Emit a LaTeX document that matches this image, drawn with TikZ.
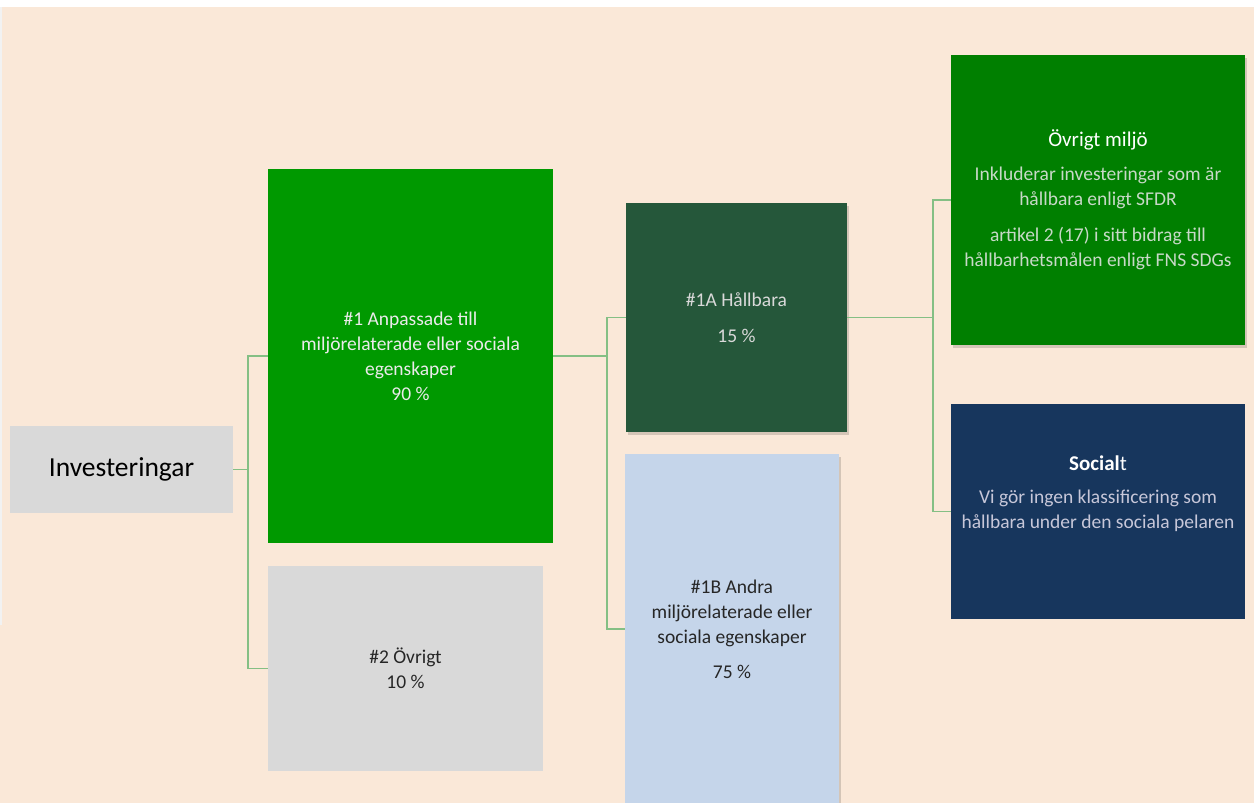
\documentclass[tikz,border=0pt]{standalone}
\usepackage{fontspec}
\setmainfont{Carlito}
\usetikzlibrary{positioning,shadows}
\definecolor{peach}{HTML}{FAE8D8}
\definecolor{boxgray}{HTML}{D9D9D9}
\definecolor{brightgreen}{HTML}{009900}
\definecolor{darkgreen}{HTML}{25573A}
\definecolor{paleblue}{HTML}{C5D5EA}
\definecolor{envgreen}{HTML}{007F00}
\definecolor{navy}{HTML}{17365D}
\definecolor{linkgreen}{HTML}{84BF84}
\begin{document}
\begin{tikzpicture}[
  x=1pt, y=-1pt,
  box/.style={rectangle, anchor=north west, inner sep=0pt, outer sep=0pt, align=center,
    font=\fontsize{19.5}{25}\selectfont},
  drop/.style={drop shadow={shadow xshift=1.5pt, shadow yshift=-2.5pt, fill=black, opacity=0.15}},
  link/.style={draw=linkgreen, line width=1.8pt}
]
\useasboundingbox (0,0) rectangle (1254,803);
\fill[peach] (0,0) rectangle (1254,803);
\fill[white] (0,0) rectangle (1254,7);
\fill[white!95!black] (0,7) rectangle (2,625);

\node[box, fill=boxgray, minimum width=223pt, minimum height=87pt, font=\fontsize{27.5}{30}\selectfont]
  (inv) at (10,426) {Investeringar};
\node[box, fill=brightgreen, text=white!92!black, minimum width=285pt, minimum height=374pt]
  (p1) at (268,169) {\#1 Anpassade till\\miljörelaterade eller sociala\\egenskaper\\90 \%};
\node[box, fill=boxgray, text=black!85, minimum width=275pt, minimum height=205pt]
  (p2) at (268,566) {\#2 Övrigt\\10 \%};
\node[box, drop, fill=darkgreen, text=boxgray, minimum width=221pt, minimum height=229pt]
  (hb) at (626,203) {\#1A Hållbara\\[11pt]15 \%};
\node[box, drop, fill=paleblue, text=black!85, minimum width=214pt, minimum height=350pt]
  (ae) at (625,454) {\#1B Andra\\miljörelaterade eller\\sociala egenskaper\\[10pt]75 \%};
\node[box, drop, fill=envgreen, text=green!8!white!85!black, minimum width=294pt, minimum height=290pt]
  (env) at (951,55) {{\color{white}\fontsize{21}{25}\selectfont Övrigt miljö}\\[9pt]Inkluderar investeringar som är\\hållbara enligt SFDR\\[11pt]artikel 2 (17) i sitt bidrag till\\hållbarhetsmålen enligt FNS SDGs};
\node[box, fill=navy, minimum width=294pt, minimum height=215pt]
  (soc) at (951,404) {};
\node[align=center, text=blue!8!white!85!black, font=\fontsize{19.5}{25}\selectfont]
  (soctext) at ([yshift=18pt]soc.center) {{\color{white}\fontsize{21}{25}\selectfont\bfseries Social\mdseries t}\\[8pt]Vi gör ingen klassificering som\\hållbara under den sociala pelaren};

\draw[link] (inv.east) -- ++(15,0) |- (p1.west);
\draw[link] (inv.east) -- ++(15,0) |- (p2.west);
\draw[link] (p1.east) -- ++(54,0) |- (hb.west);
\draw[link] (p1.east) -- ++(54,0) |- (ae.west);
\draw[link] (hb.east) -- ++(86,0) |- (env.west);
\draw[link] (hb.east) -- ++(86,0) |- (soc.west);
\end{tikzpicture}
\end{document}
